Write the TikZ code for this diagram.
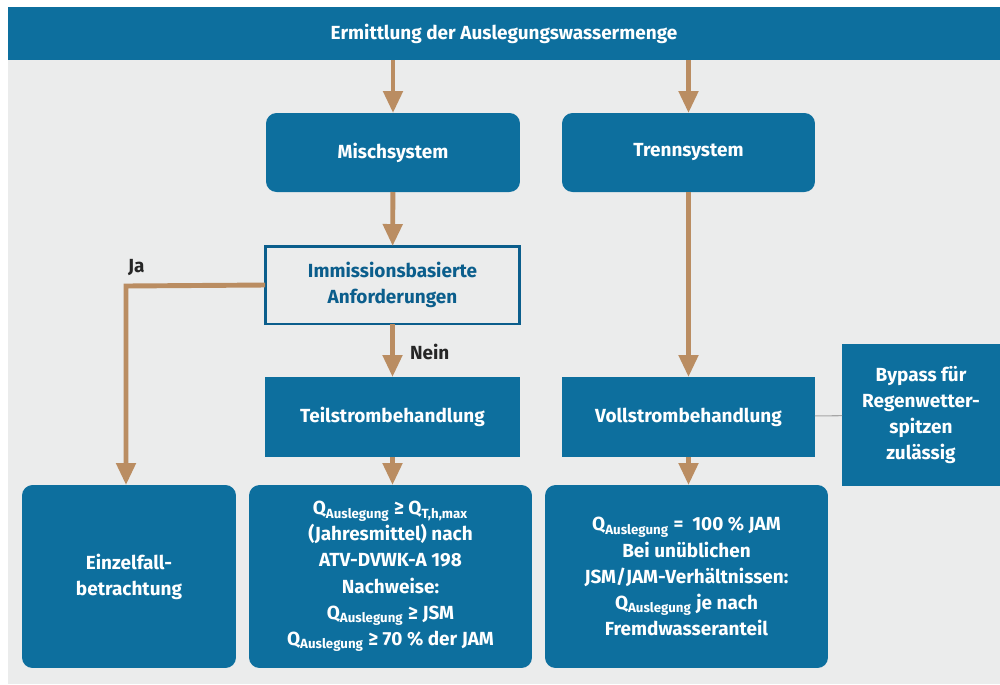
\documentclass[tikz,border=0pt]{standalone}
\usepackage{fontspec}
\setmainfont{Fira Sans}
\usetikzlibrary{arrows.meta}
\definecolor{blau}{HTML}{0D6F9E}
\definecolor{grau}{HTML}{EBECEC}
\definecolor{braun}{HTML}{BA8D62}
\definecolor{dunkel}{HTML}{0B5E8C}

\begin{document}
\begin{tikzpicture}[x=0.02cm, y=-0.02cm,
    every node/.style={font=\bfseries\fontsize{10.8}{14.9}\selectfont, align=center, inner sep=0pt, outer sep=0pt},
    kasten/.style={fill=blau, text=white, minimum width=#1, minimum height=1.6cm},
    rundkasten/.style={kasten=#1, rounded corners=6pt},
    pfeil/.style={draw=braun, line width=2.8pt, -{Triangle[length=0.44cm,width=0.38cm]}}]
    \fill[white] (0,0) rectangle (1000,684);
    \fill[grau] (8,7) rectangle (1000,684);
    \node[kasten=19.84cm, minimum height=1.06cm] (titel) at (504,33.5) {Ermittlung der Auslegungswassermenge};
    \node[rundkasten=5.08cm, minimum height=1.58cm] (misch) at (393,152.5) {Mischsystem};
    \node[rundkasten=5.06cm, minimum height=1.58cm] (trenn) at (688.5,152.5) {Trennsystem};
    \node[draw=dunkel, line width=1.7pt, fill=grau, text=dunkel, minimum width=5.1cm, minimum height=1.56cm] (immi) at (392.5,285) {Immissionsbasierte\\Anforderungen};
    \node[kasten=5.1cm] (teil) at (392.5,417) {Teilstrombehandlung};
    \node[kasten=5.06cm] (voll) at (688.5,417) {Vollstrombehandlung};
    \node[kasten=3.16cm, minimum height=2.84cm] (bypass) at (921,415) {Bypass für\\Regenwetter-\\spitzen\\zulässig};
    \node[rundkasten=4.28cm, minimum height=3.66cm] (einzel) at (129,576.5) {Einzelfall-\\betrachtung};
    \node[rundkasten=5.66cm, minimum height=3.66cm] (teilq) at (390.5,576.5) {Q\textsubscript{Auslegung} ≥ Q\textsubscript{T,h,max}\\(Jahresmittel) nach\\ATV-DVWK-A 198\\Nachweise:\\Q\textsubscript{Auslegung} ≥ JSM\\Q\textsubscript{Auslegung} ≥ 70 \% der JAM};
    \node[rundkasten=5.66cm, minimum height=3.66cm] (vollq) at (686.5,576.5) {Q\textsubscript{Auslegung} =~ 100 \% JAM\\Bei unüblichen\\JSM/JAM-Verhältnissen:\\Q\textsubscript{Auslegung} je nach\\Fremdwasseranteil};
    \coordinate (knick) at (126,286);
    \node[text=black!85, anchor=south west] (ja) at (128,276) {Ja};
    \node[text=black!85, anchor=west] (nein) at (410,352) {Nein};
    \draw[pfeil] (titel.south -| misch.north) -- (misch.north);
    \draw[pfeil] (titel.south -| trenn.north) -- (trenn.north);
    \draw[pfeil] (misch) -- (immi);
    \draw[pfeil] (immi) -- (teil);
    \draw[pfeil] (immi.west) -- (knick) -- (knick |- einzel.north);
    \draw[pfeil] (trenn) -- (voll);
    \draw[pfeil] (teil.south) -- (teil.south |- teilq.north);
    \draw[pfeil] (voll.south) -- (voll.south |- vollq.north);
    \draw[black!35, line width=0.6pt] (voll) -- (bypass);
\end{tikzpicture}
\end{document}
